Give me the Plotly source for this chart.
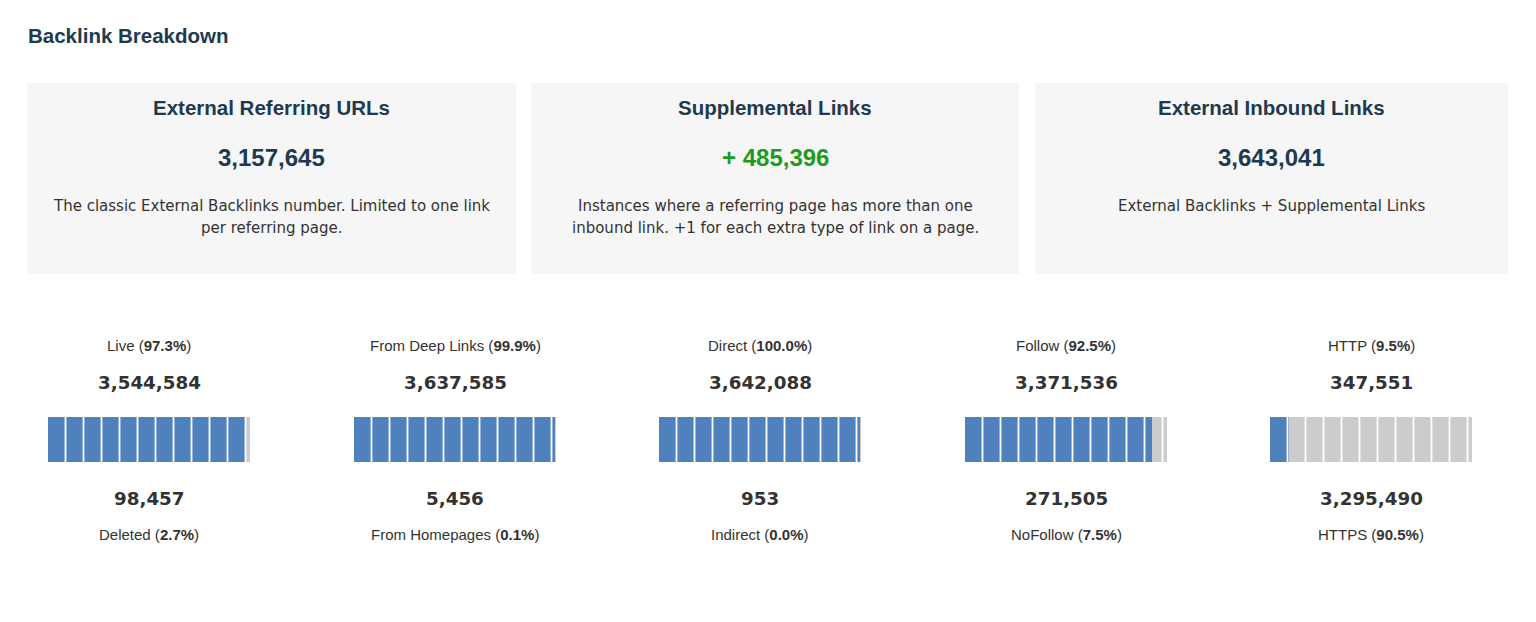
import plotly.graph_objects as go

# summary cards
card_titles = ["External Referring URLs", "Supplemental Links", "External Inbound Links"]
card_values = [3157645, 485396, 3643041]
card_prefix = ["", "+ ", ""]
card_desc = [
    ["The classic External Backlinks number. Limited to one link", "per referring page."],
    ["Instances where a referring page has more than one", "inbound link. +1 for each extra type of link on a page."],
    ["External Backlinks + Supplemental Links"],
]

# gauges
top_labels = ["Live", "From Deep Links", "Direct", "Follow", "HTTP"]
top_values = [3544584, 3637585, 3642088, 3371536, 347551]
top_pct = [97.3, 99.9, 100.0, 92.5, 9.5]
bottom_labels = ["Deleted", "From Homepages", "Indirect", "NoFollow", "HTTPS"]
bottom_values = [98457, 5456, 953, 271505, 3295490]
bottom_pct = [2.7, 0.1, 0.0, 7.5, 90.5]

W, H = 1536, 622
OFF = 8  # default body margin of the page
FW, FH = W - 2 * OFF, H - 2 * OFF

def px(x):
    return (x - OFF) / FW

def py(y):
    return 1 - (y - OFF) / FH

BLUE = "#4f81bd"
GREY = "#cccccc"
NAVY = "#1e3a4f"
DARK = "#333333"
ARIAL = "Liberation Sans, Arial, sans-serif"
VERD = "DejaVu Sans, Verdana, sans-serif"

fig = go.Figure()
annotations = []
shapes = []

annotations.append(dict(x=px(26), y=py(35), text="<b>Backlink Breakdown</b>", xanchor="left",
                        font=dict(family=ARIAL, size=20.5, color=NAVY)))

cards = [(27, 516), (531, 1019), (1035, 1508)]
for i, (x0, x1) in enumerate(cards):
    shapes.append(dict(type="rect", xref="paper", yref="paper", x0=px(x0), x1=px(x1),
                       y0=py(274), y1=py(83), fillcolor="#f6f6f6", line=dict(width=0), layer="below"))
    cx = px((x0 + x1) / 2)
    annotations.append(dict(x=cx, y=py(107), text="<b>%s</b>" % card_titles[i],
                            font=dict(family=ARIAL, size=20.5, color=NAVY)))
    col = "#1f9a1f" if card_prefix[i] else NAVY
    annotations.append(dict(x=cx, y=py(157), text="<b>%s%s</b>" % (card_prefix[i], f"{card_values[i]:,}"),
                            font=dict(family=ARIAL, size=24, color=col)))
    for j, line in enumerate(card_desc[i]):
        annotations.append(dict(x=cx, y=py(206 + 22 * j), text=line,
                                font=dict(family=VERD, size=15, color=DARK)))

bar_left = [48, 354, 659, 965, 1270]
BW = 202
layout_axes = {}
for i in range(5):
    n = "" if i == 0 else str(i + 1)
    p = top_values[i] / (top_values[i] + bottom_values[i])
    fig.add_trace(go.Bar(x=[p], y=[0], orientation="h", marker=dict(color=BLUE, line=dict(width=0)),
                         xaxis="x" + n, yaxis="y" + n, hoverinfo="skip"))
    fig.add_trace(go.Bar(x=[1 - p], y=[0], orientation="h", marker=dict(color=GREY, line=dict(width=0)),
                         xaxis="x" + n, yaxis="y" + n, hoverinfo="skip"))
    layout_axes["xaxis" + n] = dict(domain=[px(bar_left[i]), px(bar_left[i] + BW)], range=[0, 1],
                                    visible=False, fixedrange=True, anchor="y" + n)
    layout_axes["yaxis" + n] = dict(domain=[py(462), py(417)], range=[-0.5, 0.5],
                                    visible=False, fixedrange=True, anchor="x" + n)
    for k in range(11):
        sx = (17.5 + 18 * k) / BW
        shapes.append(dict(type="line", xref="x" + n, yref="y" + n + " domain", x0=sx, x1=sx, y0=0, y1=1,
                           line=dict(color="white", width=1.8)))
    cx = px(bar_left[i] + BW / 2)
    annotations.append(dict(x=cx, y=py(345), text="%s (<b>%.1f%%</b>)" % (top_labels[i], top_pct[i]),
                            font=dict(family=ARIAL, size=15, color=DARK)))
    annotations.append(dict(x=cx, y=py(382), text="<b>%s</b>" % f"{top_values[i]:,}",
                            font=dict(family=VERD, size=18.3, color=DARK)))
    annotations.append(dict(x=cx, y=py(498), text="<b>%s</b>" % f"{bottom_values[i]:,}",
                            font=dict(family=VERD, size=18.3, color=DARK)))
    annotations.append(dict(x=cx, y=py(534), text="%s (<b>%.1f%%</b>)" % (bottom_labels[i], bottom_pct[i]),
                            font=dict(family=ARIAL, size=15, color=DARK)))

for a in annotations:
    a.update(xref="paper", yref="paper", showarrow=False)
    a.setdefault("xanchor", "center")
    a.setdefault("yanchor", "middle")

fig.update_layout(width=FW, height=FH, margin=dict(l=0, r=0, t=0, b=0), barmode="stack", bargap=0,
                  showlegend=False, plot_bgcolor="white", paper_bgcolor="white",
                  annotations=annotations, shapes=shapes, **layout_axes)

fig.write_html("out.html", config={"displayModeBar": False})
